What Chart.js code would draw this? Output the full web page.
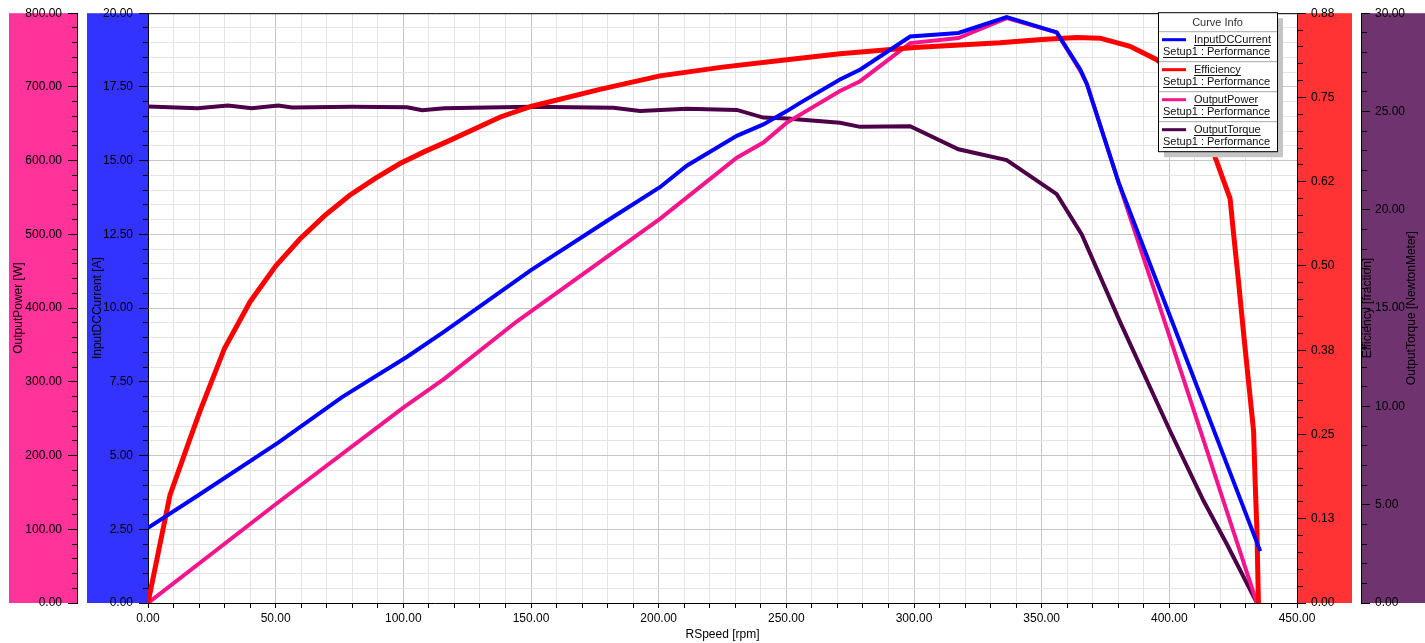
<!DOCTYPE html>
<html>
<head>
<meta charset="utf-8">
<title>Performance curves</title>
<script src="https://cdn.jsdelivr.net/npm/chart.js@4.4.1/dist/chart.umd.min.js"></script>
<style>
  html, body { margin: 0; padding: 0; background: #fff; }
  #wrap { position: relative; width: 1425px; height: 643px; }
</style>
</head>
<body>
<div id="wrap"><canvas id="chart" width="1425" height="643"></canvas></div>
<script>
/* Motor performance vs speed: four curves, four y axes (two each side). */

// ---- data ----
const speedCurrent   = [0, 20, 51, 76, 101.5, 116, 150, 180, 200.5, 211, 230.6, 241, 250.2, 255.4, 271, 279, 298.5, 317.4, 336.3, 355.9, 365.1, 367.7, 380.1, 401.6, 435.6];
const inputDCCurrent = [2.55, 3.67, 5.44, 6.98, 8.35, 9.2, 11.29, 12.97, 14.1, 14.83, 15.84, 16.23, 16.68, 16.96, 17.75, 18.09, 19.21, 19.33, 19.87, 19.35, 18.09, 17.6, 14.27, 9.43, 1.76];

const speedEff   = [0, 8.6, 16.4, 20.4, 30, 40, 50, 59.5, 69.3, 79, 89, 98.7, 108.5, 118, 138, 150.3, 177, 200.5, 225, 250.2, 271, 300.2, 333.7, 350, 363.8, 372.9, 384.6, 395.1, 405, 412, 417.3, 423.8, 425.1, 427.1, 429, 431, 433, 433.6, 434.3, 434.9];
const efficiency = [0, 0.16, 0.243, 0.285, 0.378, 0.447, 0.5, 0.54, 0.575, 0.605, 0.63, 0.652, 0.67, 0.686, 0.721, 0.737, 0.762, 0.782, 0.795, 0.806, 0.815, 0.824, 0.831, 0.836, 0.839, 0.838, 0.826, 0.806, 0.775, 0.725, 0.668, 0.6, 0.55, 0.477, 0.403, 0.329, 0.255, 0.181, 0.108, 0];

const speedPower  = [0, 50, 100, 116, 144.4, 200.5, 230.6, 241, 250.2, 271, 278.9, 298.5, 317.4, 336.3, 355.9, 365.1, 367.7, 380.1, 400.3, 434.3];
const outputPower = [0, 134, 265, 304, 381.8, 521, 604, 624.6, 651.6, 694.4, 707.8, 759.5, 766.3, 793.3, 774, 722, 704, 570.7, 359.3, 0];

const speedTorque  = [0, 19.4, 31.3, 40.6, 51, 56.4, 80, 101.5, 107.4, 116, 150, 182.3, 192.7, 211, 230.6, 241, 250.2, 271, 278.9, 298.5, 317.4, 336.3, 355.9, 365.7, 380.7, 400.3, 413.4, 422.5, 434.3];
const outputTorque = [25.26, 25.17, 25.3, 25.17, 25.3, 25.2, 25.24, 25.22, 25.06, 25.17, 25.24, 25.19, 25.03, 25.14, 25.08, 24.69, 24.64, 24.43, 24.22, 24.25, 23.08, 22.53, 20.8, 18.75, 14.3, 8.75, 5.2, 3.0, 0];

const seriesNames = ['InputDCCurrent', 'Efficiency', 'OutputPower', 'OutputTorque'];
const sourceName  = 'Setup1 : Performance';

const speedTickLabels   = ['0.00', '50.00', '100.00', '150.00', '200.00', '250.00', '300.00', '350.00', '400.00', '450.00'];
const powerTickLabels   = ['0.00', '100.00', '200.00', '300.00', '400.00', '500.00', '600.00', '700.00', '800.00'];
const currentTickLabels = ['0.00', '2.50', '5.00', '7.50', '10.00', '12.50', '15.00', '17.50', '20.00'];
const effTickLabels     = ['0.00', '0.13', '0.25', '0.38', '0.50', '0.62', '0.75', '0.88'];
const torqueTickLabels  = ['0.00', '5.00', '10.00', '15.00', '20.00', '25.00', '30.00'];

// ---- styling ----
const BLUE = '#0000ff', RED = '#ff0000', PINK = '#f5148c', PLUM = '#4b0048';
const BAND_PINK = '#ff3399', BAND_BLUE = '#3333ff', BAND_RED = '#ff3333', BAND_PLUM = '#6f3370';
const GRID_MAJOR = '#c6c6c6', GRID_MINOR = '#e4e4e4';
const FONT = '"Liberation Sans", Arial, sans-serif';

Chart.defaults.font.family = FONT;
Chart.defaults.font.size = 12;
Chart.defaults.color = '#000';

function pairs(xs, ys) {
  return xs.map((x, i) => ({ x: x, y: ys[i] }));
}

/* ticks every minor step, label only every 5th one */
function everyFifth(labels) {
  return (value, index) => index % 5 === 0 ? labels[index / 5] : '';
}
const gridShade = (c) => c.index % 5 === 0 ? GRID_MAJOR : GRID_MINOR;
/* minor tick marks are shorter: dash pattern trims them */
const leftTickDash  = (c) => c.index % 5 === 0 ? [] : [0, 4, 5, 100];
const rightTickDash = (c) => c.index % 5 === 0 ? [] : [5, 100];

function yAxis(pos, weight, width, max, step, labels, onArea) {
  return {
    type: 'linear',
    position: pos,
    weight: weight,
    min: 0,
    max: max,
    afterFit: (s) => { s.width = width; },
    grid: {
      drawOnChartArea: onArea,
      color: gridShade,
      tickColor: '#000',
      tickLength: 9,
      tickBorderDash: pos === 'left' ? leftTickDash : rightTickDash
    },
    border: { color: '#000' },
    ticks: {
      stepSize: step,
      autoSkip: false,
      padding: pos === 'left' ? 6 : 5,
      callback: everyFifth(labels)
    }
  };
}

/* coloured backgrounds behind each y axis */
const axisBands = {
  id: 'axisBands',
  beforeDraw(chart) {
    const { ctx, chartArea, scales } = chart;
    const top = chartArea.top, h = chartArea.bottom - chartArea.top;
    ctx.save();
    ctx.fillStyle = '#fff';
    ctx.fillRect(0, 0, chart.width, chart.height);
    ctx.fillStyle = BAND_PINK;
    ctx.fillRect(scales.yPower.right - 68, top, 68, h);
    ctx.fillStyle = BAND_BLUE;
    ctx.fillRect(scales.yCurrent.right - 61, top, 61, h);
    ctx.fillStyle = BAND_RED;
    ctx.fillRect(scales.yEff.left, top, 55, h);
    ctx.fillStyle = BAND_PLUM;
    ctx.fillRect(scales.yTorque.left, top, scales.yTorque.right - scales.yTorque.left, h);
    ctx.restore();
  }
};

/* top frame line + right-hand axis titles */
const frameAndTitles = {
  id: 'frameAndTitles',
  afterDraw(chart) {
    const { ctx, chartArea, scales } = chart;
    const midY = (chartArea.top + chartArea.bottom) / 2;
    ctx.save();
    ctx.strokeStyle = '#000';
    ctx.lineWidth = 1;
    ctx.beginPath();
    ctx.moveTo(chartArea.left, chartArea.top + 0.5);
    ctx.lineTo(chartArea.right, chartArea.top + 0.5);
    ctx.stroke();

    ctx.font = '12px ' + FONT;
    ctx.fillStyle = '#000';
    ctx.textAlign = 'center';
    ctx.textBaseline = 'middle';
    [['Efficiency [fraction]', scales.yTorque.left + 7],
     ['OutputTorque [NewtonMeter]', scales.yTorque.right - 13]].forEach(([txt, x]) => {
      ctx.save();
      ctx.translate(x, midY);
      ctx.rotate(-Math.PI / 2);
      ctx.fillText(txt, 0, 0);
      ctx.restore();
    });
    ctx.restore();
  }
};

/* "Curve Info" box in the top right corner */
function underlined(ctx, text, x, y) {
  ctx.fillText(text, x, y);
  ctx.fillRect(x, Math.round(y + 5), ctx.measureText(text).width, 1);
}

const curveInfo = {
  id: 'curveInfo',
  afterDraw(chart) {
    const { ctx, chartArea } = chart;
    const sets = chart.data.datasets;
    const w = 119, head = 19, row = 30;
    const x = chartArea.right - 139, y = chartArea.top - 1;
    const h = head + row * sets.length;
    ctx.save();
    ctx.fillStyle = '#c4c4c4';
    ctx.fillRect(x + 6, y + 6, w, h);
    ctx.fillStyle = '#fff';
    ctx.fillRect(x, y, w, h);
    ctx.strokeStyle = '#000';
    ctx.lineWidth = 1;
    ctx.strokeRect(x + 0.5, y + 0.5, w, h);

    ctx.font = '11px ' + FONT;
    ctx.textBaseline = 'middle';
    ctx.textAlign = 'center';
    ctx.fillStyle = '#333';
    ctx.fillText('Curve Info', x + w / 2, y + 10.5);

    ctx.textAlign = 'left';
    sets.forEach((ds, i) => {
      const top = y + head + row * i;
      ctx.fillStyle = '#a8a8a8';
      ctx.fillRect(x + 1, top, w - 1, 1);
      ctx.strokeStyle = ds.borderColor;
      ctx.lineWidth = 3;
      ctx.beginPath();
      ctx.moveTo(x + 4, top + 8.5);
      ctx.lineTo(x + 28, top + 8.5);
      ctx.stroke();
      ctx.fillStyle = '#111';
      underlined(ctx, ds.label, x + 36, top + 9);
      underlined(ctx, sourceName, x + 5, top + 21);
    });
    ctx.restore();
  }
};

new Chart(document.getElementById('chart'), {
  type: 'line',
  data: {
    datasets: [
      { label: seriesNames[0], data: pairs(speedCurrent, inputDCCurrent), yAxisID: 'yCurrent', borderColor: BLUE, borderWidth: 4 },
      { label: seriesNames[1], data: pairs(speedEff, efficiency),         yAxisID: 'yEff',     borderColor: RED,  borderWidth: 5 },
      { label: seriesNames[2], data: pairs(speedPower, outputPower),      yAxisID: 'yPower',   borderColor: PINK, borderWidth: 4 },
      { label: seriesNames[3], data: pairs(speedTorque, outputTorque),    yAxisID: 'yTorque',  borderColor: PLUM, borderWidth: 4 }
    ]
  },
  options: {
    responsive: false,
    animation: false,
    events: [],
    layout: { padding: { top: 10, left: 0, right: 0, bottom: 0 } },
    elements: {
      point: { radius: 0 },
      line: { tension: 0, fill: false, borderJoinStyle: 'miter' }
    },
    plugins: {
      legend: { display: false },
      tooltip: { enabled: false }
    },
    scales: {
      x: {
        type: 'linear',
        position: 'bottom',
        min: 0,
        max: 450,
        afterFit: (s) => { s.height = 40; },
        grid: { color: gridShade, tickColor: '#000', tickLength: 5 },
        border: { color: '#000' },
        ticks: { stepSize: 10, autoSkip: false, maxRotation: 0, padding: 3, callback: everyFifth(speedTickLabels) },
        title: { display: true, text: 'RSpeed [rpm]', padding: { top: 0, bottom: 1 } }
      },
      yPower: Object.assign(yAxis('left', 2, 77, 800, 20, powerTickLabels, true), {
        title: { display: true, text: 'OutputPower [W]', padding: { top: 11 } }
      }),
      yCurrent: Object.assign(yAxis('left', 1, 71, 20, 0.5, currentTickLabels, false), {
        title: { display: true, text: 'InputDCCurrent [A]', padding: { top: 13 } }
      }),
      yEff: yAxis('right', 1, 64, 0.875, 0.025, effTickLabels, false),
      yTorque: yAxis('right', 2, 64, 30, 1, torqueTickLabels, false)
    }
  },
  plugins: [axisBands, frameAndTitles, curveInfo]
});
</script>
</body>
</html>
